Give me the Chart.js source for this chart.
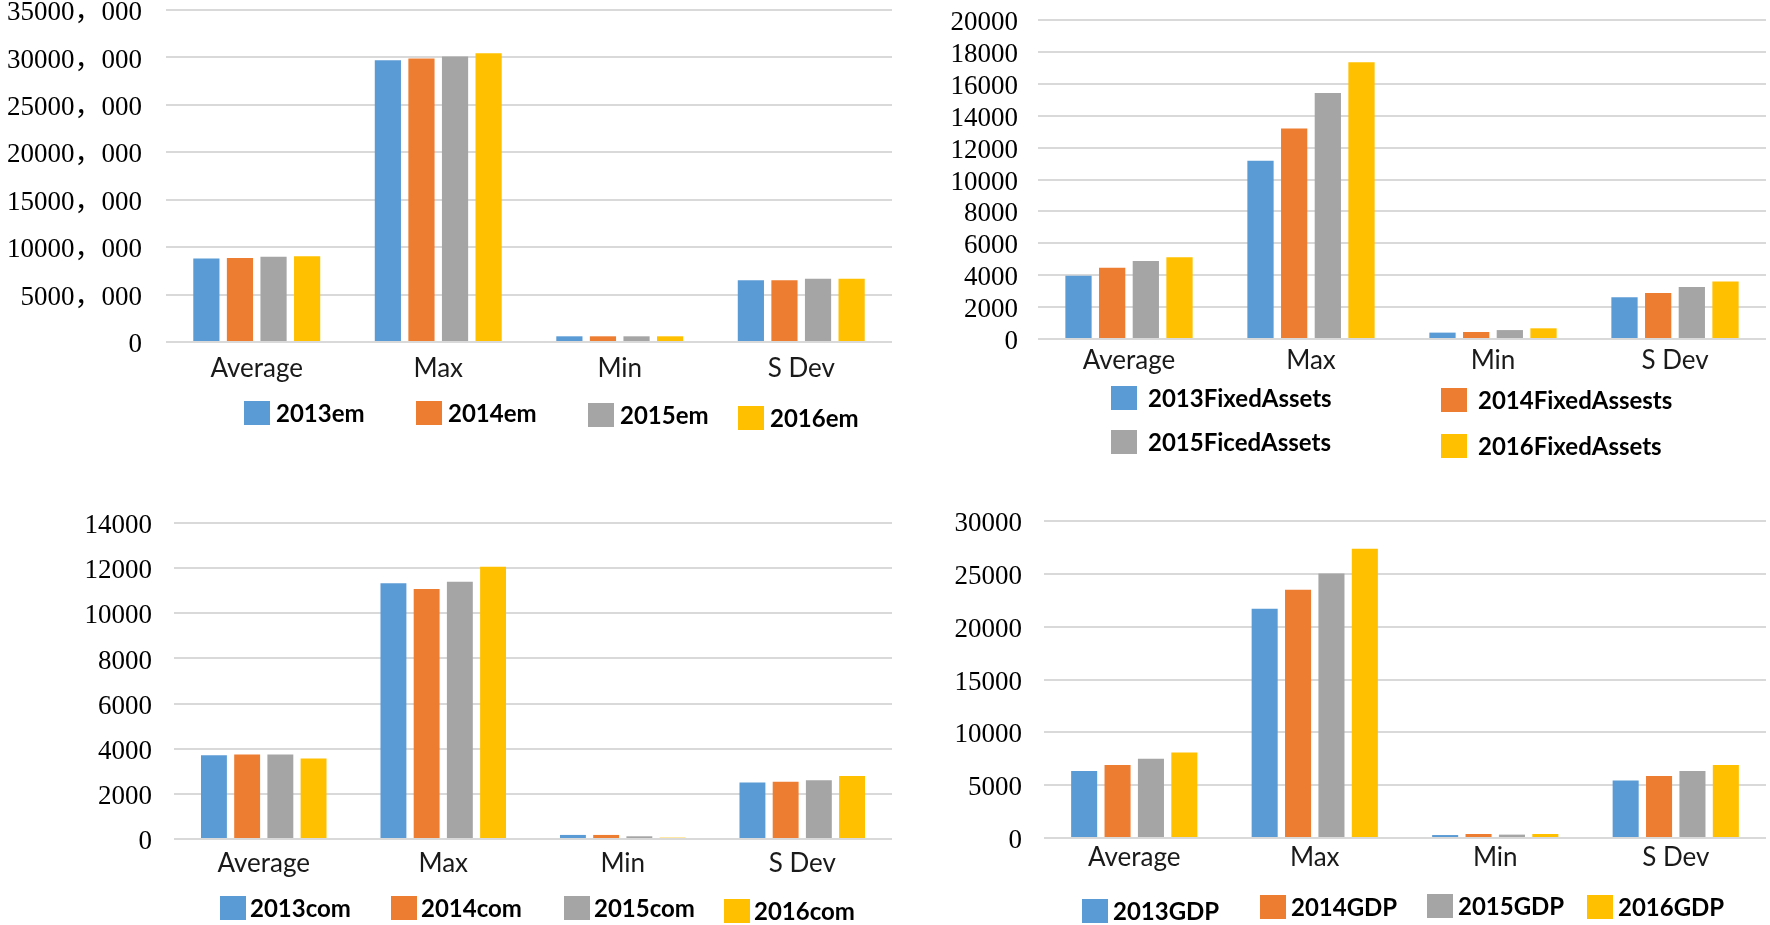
<!DOCTYPE html>
<html>
<head>
<meta charset="utf-8">
<script src="https://cdn.jsdelivr.net/npm/chart.js@4.4.0/dist/chart.umd.min.js"></script>
<style>
  html, body { margin: 0; padding: 0; background: #fff; }
  body { width: 1770px; height: 925px; position: relative; overflow: hidden; }
  .cell { position: absolute; }
</style>
</head>
<body>
<div class="cell" style="left:0;top:0;width:900px;height:470px"><canvas id="emChart"></canvas></div>
<div class="cell" style="left:900px;top:0;width:870px;height:470px"><canvas id="faChart"></canvas></div>
<div class="cell" style="left:0;top:470px;width:900px;height:455px"><canvas id="comChart"></canvas></div>
<div class="cell" style="left:900px;top:470px;width:870px;height:455px"><canvas id="gdpChart"></canvas></div>
<script>
'use strict';

const categories = ['Average', 'Max', 'Min', 'S Dev'];
const colors = ['#5B9BD5', '#ED7D31', '#A5A5A5', '#FFC000'];

// em (axis shown in thousands)
const em2013 = [8800, 29700, 600, 6500];
const em2014 = [8850, 29900, 600, 6500];
const em2015 = [9000, 30100, 600, 6680];
const em2016 = [9050, 30450, 600, 6680];
const emLegend = ['2013em', '2014em', '2015em', '2016em'];
const emTicks = ['0', '5000，000', '10000，000', '15000，000', '20000，000', '25000，000', '30000，000', '35000，000'];

// fixed assets
const fa2013 = [3970, 11170, 400, 2610];
const fa2014 = [4470, 13200, 440, 2880];
const fa2015 = [4890, 15430, 560, 3260];
const fa2016 = [5120, 17350, 670, 3610];
const faLegend = ['2013FixedAssets', '2014FixedAssests', '2015FicedAssets', '2016FixedAssets'];
const faTicks = ['0', '2000', '4000', '6000', '8000', '10000', '12000', '14000', '16000', '18000', '20000'];

// com
const com2013 = [3710, 11330, 180, 2500];
const com2014 = [3740, 11080, 180, 2540];
const com2015 = [3740, 11400, 120, 2600];
const com2016 = [3570, 12060, 60, 2790];
const comLegend = ['2013com', '2014com', '2015com', '2016com'];
const comTicks = ['0', '2000', '4000', '6000', '8000', '10000', '12000', '14000'];

// GDP
const gdp2013 = [6340, 21700, 280, 5430];
const gdp2014 = [6910, 23500, 380, 5870];
const gdp2015 = [7510, 25020, 320, 6340];
const gdp2016 = [8080, 27380, 380, 6910];
const gdpLegend = ['2013GDP', '2014GDP', '2015GDP', '2016GDP'];
const gdpTicks = ['0', '5000', '10000', '15000', '20000', '25000', '30000'];

// 범례: 엑셀처럼 자리를 직접 지정해서 그림
const boxLegend = {
  id: 'boxLegend',
  afterDraw(chart, args, opts) {
    const { ctx } = chart;
    ctx.save();
    ctx.font = 'bold 24px Lato';
    ctx.textBaseline = 'middle';
    chart.data.datasets.forEach((ds, i) => {
      const [x, y] = opts.items[i];
      ctx.fillStyle = ds.backgroundColor;
      ctx.fillRect(x, y - 12, 26, 24);
      ctx.fillStyle = '#000';
      ctx.fillText(ds.label, x + 26 + opts.gap, y + 1);
    });
    ctx.restore();
  }
};

function buildChart(id, series, legend, ticks, step, area, legendItems, gap) {
  const canvas = document.getElementById(id);
  const W = canvas.parentNode.clientWidth;
  const H = canvas.parentNode.clientHeight;
  const xHeight = 60;

  return new Chart(canvas, {
    type: 'bar',
    plugins: [boxLegend],
    data: {
      labels: categories,
      datasets: series.map((d, i) => ({
        label: legend[i],
        data: d,
        backgroundColor: colors[i],
        borderWidth: 0,
        categoryPercentage: 0.74,
        barPercentage: 0.78,
      })),
    },
    options: {
      responsive: true,
      maintainAspectRatio: false,
      animation: false,
      layout: {
        padding: { left: 0, top: area.top, right: W - area.right, bottom: H - area.bottom - xHeight },
      },
      plugins: {
        legend: { display: false },
        tooltip: { enabled: false },
        boxLegend: { items: legendItems, gap },
      },
      scales: {
        x: {
          grid: { display: false },
          border: { display: false },
          ticks: { color: '#1a1a1a', font: { family: 'Lato', size: 26 }, padding: area.xPad },
          afterFit(s) { s.height = xHeight; s.paddingLeft = 0; s.paddingRight = 0; },
        },
        y: {
          min: 0,
          max: step * (ticks.length - 1),
          border: { display: false },
          grid: { color: '#d9d9d9', lineWidth: 2, drawTicks: false },
          ticks: {
            stepSize: step,
            autoSkip: false,
            padding: area.yPad,
            labelOffset: 3,
            color: '#000',
            font: { family: "'Liberation Serif', 'Noto Sans CJK SC'", size: 27 },
            callback: (v, i) => ticks[i],
          },
          afterFit(s) { s.width = area.left; s.paddingTop = 0; s.paddingBottom = 0; },
        },
      },
    },
  });
}

buildChart('emChart', [em2013, em2014, em2015, em2016], emLegend, emTicks, 5000,
  { left: 166, top: 10, right: 892, bottom: 342, yPad: 24, xPad: 3 },
  [[244, 413], [416, 413], [588, 415], [738, 418]], 6);

buildChart('faChart', [fa2013, fa2014, fa2015, fa2016], faLegend, faTicks, 2000,
  { left: 138, top: 20, right: 866, bottom: 339, yPad: 20, xPad: -2 },
  [[211, 398], [541, 400], [211, 442], [541, 446]], 11);

buildChart('comChart', [com2013, com2014, com2015, com2016], comLegend, comTicks, 2000,
  { left: 174, top: 53, right: 892, bottom: 369, yPad: 22, xPad: 1 },
  [[220, 438], [391, 438], [564, 438], [724, 441]], 4);

buildChart('gdpChart', [gdp2013, gdp2014, gdp2015, gdp2016], gdpLegend, gdpTicks, 5000,
  { left: 144, top: 51, right: 866, bottom: 368, yPad: 22, xPad: -4 },
  [[182, 441], [360, 437], [527, 436], [687, 437]], 5);
</script>
</body>
</html>
